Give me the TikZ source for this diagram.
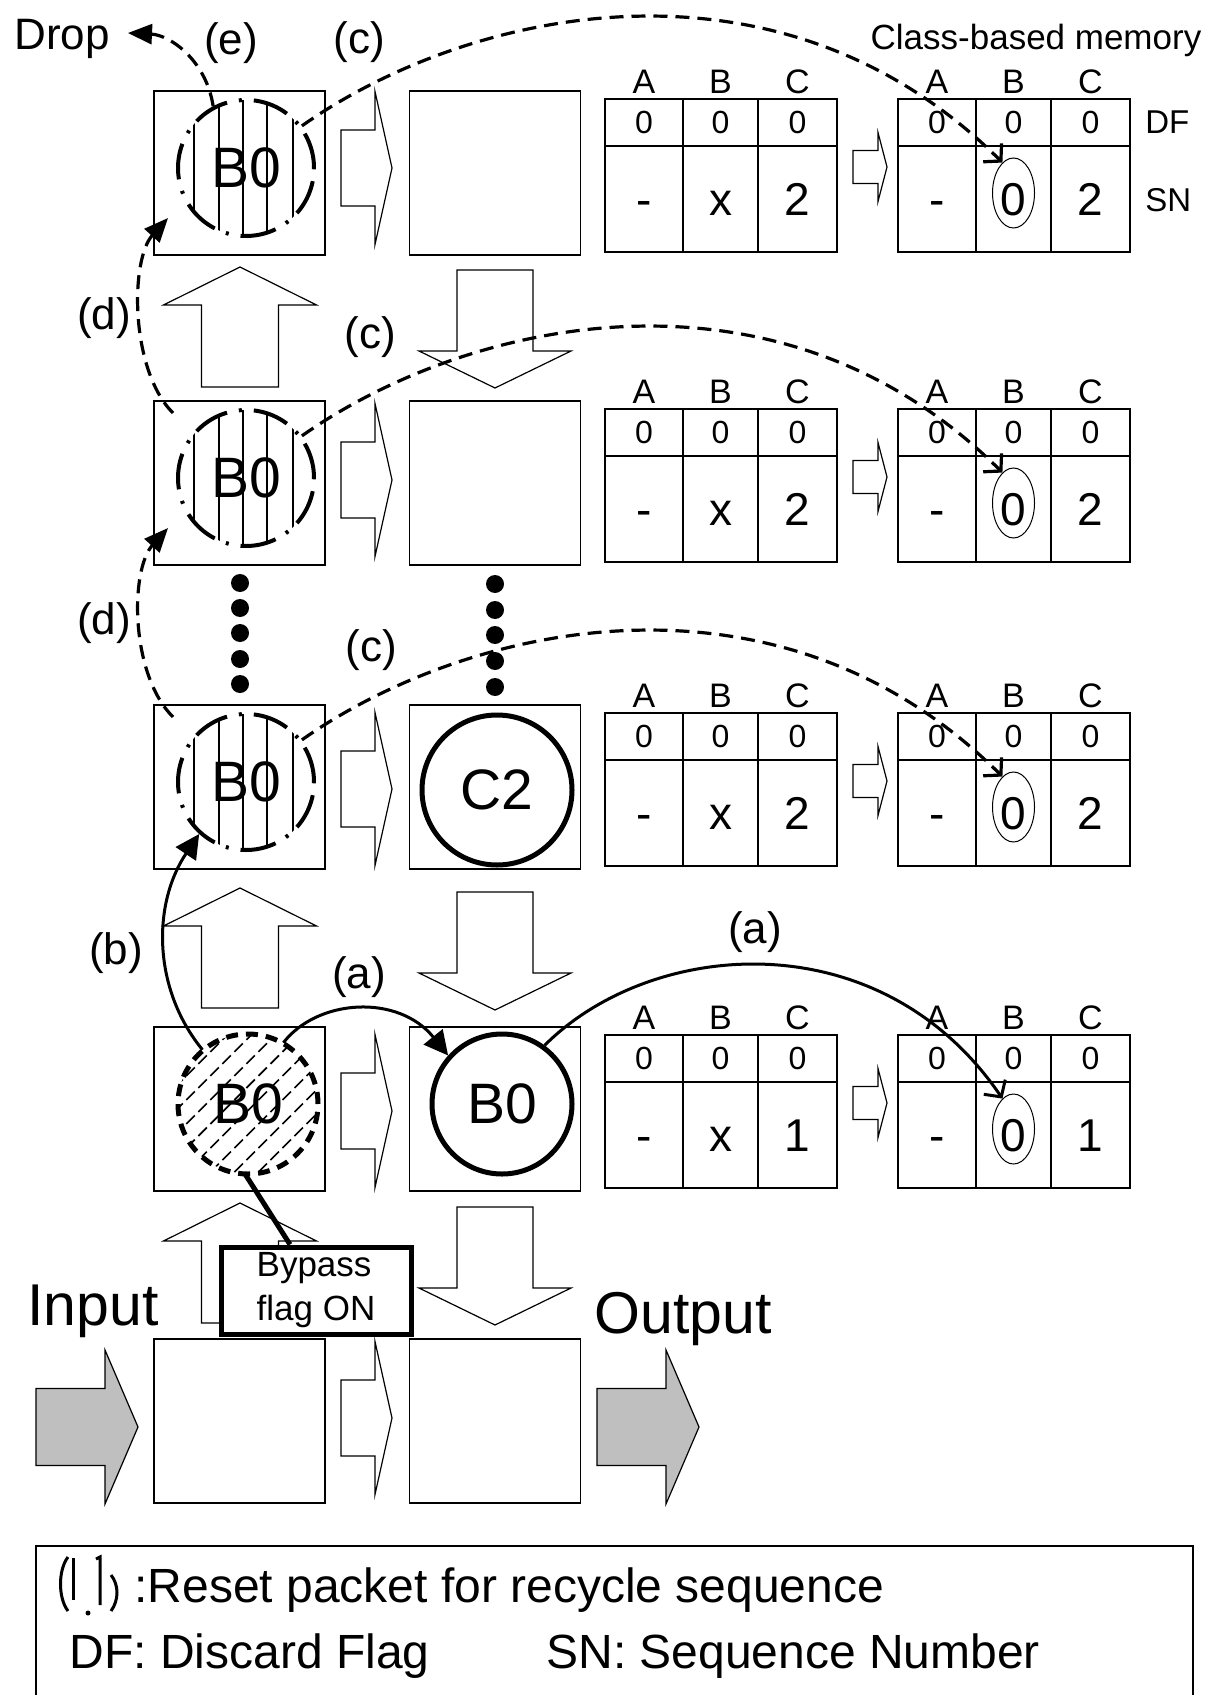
\documentclass[tikz,border=0pt]{standalone}
\usepackage{fontspec}
\setmainfont{Liberation Sans}
\usetikzlibrary{arrows.meta, shapes.geometric, patterns.meta}

\newcommand{\memtab}[6]{%
    \draw[grid] (#2,#3) rectangle ++(232,153);
    \draw[grid] (#2+78,#3) -- ++(0,153);
    \draw[grid] (#2+153,#3) -- ++(0,153);
    \draw[grid] (#2,#3+47) -- ++(232,0);
    \node[hdr] (#1A) at (#2+39,#3-17)    {A};
    \node[hdr] (#1B) at (#2+115.5,#3-17) {B};
    \node[hdr] (#1C) at (#2+192.5,#3-17) {C};
    \node[dfv] (#1a) at (#2+39,#3+23)    {0};
    \node[dfv] (#1b) at (#2+115.5,#3+23) {0};
    \node[dfv] (#1c) at (#2+192.5,#3+23) {0};
    \node[snv] (#1x) at (#2+39,#3+100)    {#4};
    \node[snv] (#1y) at (#2+115.5,#3+100) {#5};
    \node[snv] (#1z) at (#2+192.5,#3+100) {#6};
}

\tikzset{
    buf/.style={draw, line width=0.75pt, minimum width=85.5pt, minimum height=82pt, inner sep=0pt},
    hol/.style={draw, line width=0.6pt, line join=miter},
    io/.style={hol, fill=black!25},
    grid/.style={line width=0.75pt},
    pkt/.style={circle, draw, line width=2.5pt, minimum size=70pt, inner sep=0pt, font=\fontsize{28.5pt}{30pt}\selectfont},
    rst/.style={circle, draw, line width=2pt, dash pattern=on 18pt off 6pt on 1.5pt off 6pt, minimum size=68pt, inner sep=0pt,
        font=\fontsize{28.5pt}{30pt}\selectfont,
        path picture={
            \draw[solid, line width=1.1pt] ([xshift=-26pt]path picture bounding box.north) -- ([xshift=-26pt]path picture bounding box.south);
            \draw[solid, line width=1.1pt] ([xshift=-13.5pt]path picture bounding box.north) -- ([xshift=-13.5pt]path picture bounding box.south);
            \draw[solid, line width=1.1pt] ([xshift=-1.5pt]path picture bounding box.north) -- ([xshift=-1.5pt]path picture bounding box.south);
            \draw[solid, line width=1.1pt] ([xshift=10.5pt]path picture bounding box.north) -- ([xshift=10.5pt]path picture bounding box.south);
            \draw[solid, line width=1.1pt] ([xshift=23.5pt]path picture bounding box.north) -- ([xshift=23.5pt]path picture bounding box.south);
        }},
    hatpkt/.style={circle, draw, line width=2.5pt, dash pattern=on 6pt off 4pt, minimum size=70pt, inner sep=0pt,
        pattern={Lines[angle=45, distance=8.5pt, line width=0.8pt]}, font=\fontsize{28.5pt}{30pt}\selectfont},
    ring/.style={ellipse, draw, line width=0.5pt, minimum width=21pt, minimum height=35pt, inner sep=0pt},
    dot/.style={circle, fill, inner sep=0pt, minimum size=9pt},
    ldot/.style={circle, fill, inner sep=0pt, minimum size=2.5pt},
    flagbox/.style={draw, line width=2.5pt, fill=white, minimum width=95pt, minimum height=43.5pt, inner sep=0pt,
        align=left, font=\fontsize{17.5pt}{22pt}\selectfont},
    hdr/.style={inner sep=0pt, font=\fontsize{17pt}{18pt}\selectfont},
    dfv/.style={inner sep=0pt, font=\fontsize{16pt}{18pt}\selectfont},
    snv/.style={inner sep=0pt, text height=16.5pt, text depth=0pt, font=\fontsize{23pt}{25pt}\selectfont},
    tag/.style={inner sep=0pt, anchor=west, font=\fontsize{16.5pt}{18pt}\selectfont},
    lbl/.style={inner sep=0pt, font=\fontsize{22pt}{24pt}\selectfont},
    big/.style={inner sep=0pt, font=\fontsize{29.5pt}{32pt}\selectfont},
    leg/.style={inner sep=0pt, anchor=base west, font=\fontsize{24pt}{26pt}\selectfont},
    legbox/.style={line width=0.75pt},
    legsym/.style={line width=1.5pt},
    updline/.style={line width=1.6pt, dash pattern=on 7pt off 4pt, -{Straight Barb[length=6pt, width=13pt]}},
    retline/.style={line width=1.6pt, dash pattern=on 7pt off 4pt, -{Triangle[length=12pt, width=10pt]}},
    fwdline/.style={line width=1.5pt, -{Triangle[length=12pt, width=12pt]}},
    setline/.style={line width=1.5pt, -{Straight Barb[length=6pt, width=13pt]}},
    flagline/.style={line width=2.5pt},
    pics/rarr/.style={code={\draw[hol] (0,-38) -- (34,-38) -- (34,-76.5) -- (51,0) -- (34,76.5) -- (34,38) -- (0,38) -- cycle;}},
    pics/tarr/.style={code={\draw[hol] (0,-16.5) -- (25,-16.5) -- (25,-34.5) -- (34,0) -- (25,34.5) -- (25,16.5) -- (0,16.5) -- cycle;}},
    pics/uarr/.style={code={\draw[hol] (0,0) -- (76.5,38) -- (38.5,38) -- (38.5,120) -- (-38.5,120) -- (-38.5,38) -- (-76.5,38) -- cycle;}},
    pics/darr/.style={code={\draw[hol] (0,0) -- (76,-37) -- (38,-37) -- (38,-118) -- (-38,-118) -- (-38,-37) -- (-76,-37) -- cycle;}},
    pics/ioarr/.style={code={\draw[io] (0,-38.5) -- (69,-38.5) -- (69,-77) -- (102,0) -- (69,77) -- (69,38.5) -- (0,38.5) -- cycle;}},
}

\begin{document}
\begin{tikzpicture}[x=0.5pt, y=-0.5pt]
    \useasboundingbox (0,0) rectangle (1214,1695);

    \node[buf] (b11) at (239.5,173)  {};
    \node[buf] (b12) at (495,173)    {};
    \node[buf] (b21) at (239.5,483)  {};
    \node[buf] (b22) at (495,483)    {};
    \node[buf] (b31) at (239.5,787)  {};
    \node[buf] (b32) at (495,787)    {};
    \node[buf] (b41) at (239.5,1109) {};
    \node[buf] (b42) at (495,1109)   {};
    \node[buf] (b51) at (239.5,1421) {};
    \node[buf] (b52) at (495,1421)   {};

    \pic at (341,168)  {rarr};
    \pic at (341,480)  {rarr};
    \pic at (341,789)  {rarr};
    \pic at (341,1111) {rarr};
    \pic at (341,1418) {rarr};

    \pic at (240,267)  {uarr};
    \pic at (240,888)  {uarr};
    \pic at (240,1203) {uarr};
    \pic at (495,388)  {darr};
    \pic at (495,1010) {darr};
    \pic at (495,1325) {darr};

    \pic at (36,1427)  {ioarr};
    \pic at (597,1427) {ioarr};

    \pic at (853,167)  {tarr};
    \pic at (853,477)  {tarr};
    \pic at (853,781)  {tarr};
    \pic at (853,1103) {tarr};

    \memtab{m1l}{605}{99}{-}{x}{2}
    \memtab{m1r}{898}{99}{-}{0}{2}
    \memtab{m2l}{605}{409}{-}{x}{2}
    \memtab{m2r}{898}{409}{-}{0}{2}
    \memtab{m3l}{605}{713}{-}{x}{2}
    \memtab{m3r}{898}{713}{-}{0}{2}
    \memtab{m4l}{605}{1035}{-}{x}{1}
    \memtab{m4r}{898}{1035}{-}{0}{1}

    \node[ring] (z1) at (1013.5,193)  {};
    \node[ring] (z2) at (1013.5,503)  {};
    \node[ring] (z3) at (1013.5,807)  {};
    \node[ring] (z4) at (1013.5,1129) {};

    \node[tag] (df) at (1145,122) {DF};
    \node[tag] (sn) at (1145,200) {SN};
    \node[tag, anchor=base, font=\fontsize{17.5pt}{18pt}\selectfont] (cbm) at (1036,50) {Class-based memory};

    \node[rst] (pk1) at (246,168) {B0};
    \node[rst] (pk2) at (246,478) {B0};
    \node[rst] (pk3) at (246,782) {B0};
    \node[pkt, minimum size=75pt] (pc) at (497,790) {C2};
    \node[hatpkt] (hat) at (248,1104) {B0};
    \node[pkt] (pb) at (502,1104) {B0};

    \node[dot] (v1) at (240,583) {};
    \node[dot] (v2) at (240,608) {};
    \node[dot] (v3) at (240,633) {};
    \node[dot] (v4) at (240,659) {};
    \node[dot] (v5) at (240,684) {};
    \node[dot] (w1) at (495,584) {};
    \node[dot] (w2) at (495,610) {};
    \node[dot] (w3) at (495,635) {};
    \node[dot] (w4) at (495,661) {};
    \node[dot] (w5) at (495,687) {};

    \node[flagbox] (bypass) at (316,1290.5) {Bypass\\flag ON};

    \node[lbl, anchor=base] (drop) at (62,50) {Drop};
    \node[lbl] (le)  at (231,43)  {(e)};
    \node[lbl] (lc1) at (359,42)  {(c)};
    \node[lbl] (lc2) at (370,337) {(c)};
    \node[lbl] (lc3) at (371,650) {(c)};
    \node[lbl] (ld1) at (104,318) {(d)};
    \node[lbl] (ld2) at (104,623) {(d)};
    \node[lbl] (lb)  at (116,953) {(b)};
    \node[lbl] (la1) at (359,977) {(a)};
    \node[lbl] (la2) at (755,932) {(a)};
    \node[big, anchor=base] (inp)  at (93,1325)  {Input};
    \node[big, anchor=base] (outp) at (683,1333) {Output};

    \coordinate (dropin) at (128,33);
    \coordinate (d1s) at (173,413);
    \coordinate (d1e) at (168,218);
    \coordinate (d2s) at (173,717);
    \coordinate (d2e) at (168,528);

    \draw[updline] (pk1.37) .. controls +(166,-117) and +(-224,-223) .. (z1.110);
    \draw[updline] (pk2.37) .. controls +(166,-117) and +(-224,-223) .. (z2.110);
    \draw[updline] (pk3.37) .. controls +(166,-117) and +(-224,-223) .. (z3.110);

    \draw[retline] (pk1.118) .. controls +(-7,-46) and +(42,2) .. (dropin);
    \draw[retline] (d1s) .. controls +(-43,-43) and +(-38,42) .. (d1e);
    \draw[retline] (d2s) .. controls +(-43,-43) and +(-38,42) .. (d2e);

    \draw[fwdline] (hat.130) .. controls +(-50,-61) and +(-47,70) .. (pk3.228);
    \draw[fwdline] (hat.60) .. controls +(34,-44) and +(-50,-62) .. (pb.138);
    \draw[setline] (pb.54) .. controls +(107,-107) and +(-122,-179) .. (z4.110);
    \draw[flagline] ([xshift=-13pt]bypass.north) -- (hat.-92);

    \draw[legbox] (36,1695) |- (1193,1546) -- (1193,1695);
    \draw[legsym] (68,1557) .. controls (58,1570) and (58,1598) .. (68,1611);
    \draw[legsym] (73,1558) -- (73,1600);
    \node[ldot] (lgd) at (88,1613) {};
    \draw[legsym] (96,1559) -- (100,1557) -- (100,1605);
    \draw[legsym] (111,1575) .. controls (119,1585) and (119,1600) .. (111,1611);
    \node[leg] (leg1) at (134,1602) {:Reset packet for recycle sequence};
    \node[leg] (leg2) at (69,1668)  {DF: Discard Flag};
    \node[leg] (leg3) at (546,1668) {SN: Sequence Number};
\end{tikzpicture}
\end{document}
